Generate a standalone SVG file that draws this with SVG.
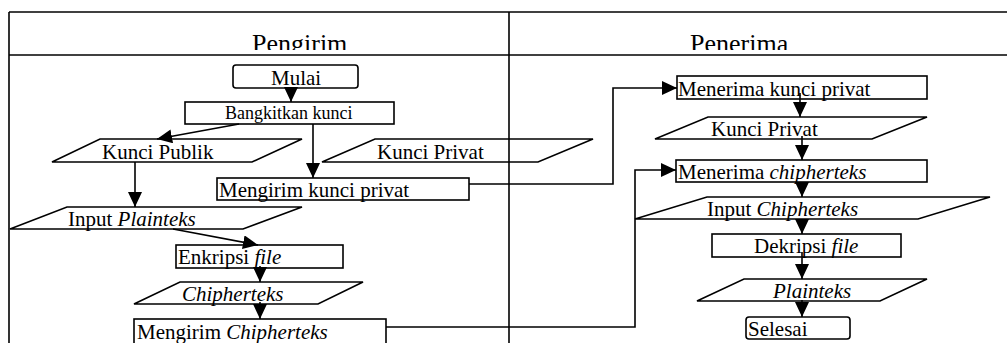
<svg xmlns="http://www.w3.org/2000/svg" width="1007" height="343" viewBox="0 0 1007 343">
<style>
.frame{fill:none;stroke:#000;stroke-width:1.6}
.box{fill:none;stroke:#000;stroke-width:1.6}
.t{font-family:'Liberation Serif','Times New Roman',Times,'DejaVu Serif',serif;font-size:21px;fill:#000}
.s{font-size:18px}
.h{font-size:26px}
.i{font-style:italic}
.c{fill:none;stroke:#000;stroke-width:1.6}
</style>
<defs>
<marker id="ah" markerUnits="userSpaceOnUse" markerWidth="15" markerHeight="14" refX="15" refY="7" orient="auto">
<path d="M0,0 L15,7 L0,14 z" fill="#000"/>
</marker>
<clipPath id="hc"><rect x="9" y="12" width="998" height="38"/></clipPath>
</defs>
<rect width="1007" height="343" fill="#fff"/>
<g id="lanes">
<line class="frame" x1="9" y1="12" x2="1007" y2="12"/>
<line class="frame" x1="9" y1="55" x2="1007" y2="55"/>
<line class="frame" x1="9" y1="12" x2="9" y2="343"/>
<line class="frame" x1="509" y1="12" x2="509" y2="343"/>
<g clip-path="url(#hc)">
<text class="t h" x="252" y="52" font-family="Liberation Serif, serif">Pengirim</text>
<text class="t h" x="690" y="52" font-family="Liberation Serif, serif">Penerima</text>
</g>
</g>
<g id="connectors">
<line class="c" x1="291" y1="88" x2="291" y2="102" marker-end="url(#ah)"/>
<line class="c" x1="239" y1="124" x2="157" y2="139" marker-end="url(#ah)"/>
<line class="c" x1="313" y1="124" x2="313" y2="178" marker-end="url(#ah)"/>
<line class="c" x1="135" y1="162" x2="135" y2="207" marker-end="url(#ah)"/>
<line class="c" x1="173" y1="229" x2="258" y2="245" marker-end="url(#ah)"/>
<line class="c" x1="260" y1="266" x2="260" y2="282" marker-end="url(#ah)"/>
<line class="c" x1="260" y1="302" x2="260" y2="319" marker-end="url(#ah)"/>
<polyline class="c" points="469,184 613,184 613,88 677,88" marker-end="url(#ah)"/>
<polyline class="c" points="386,327 635,327 635,170 676,170" marker-end="url(#ah)"/>
<line class="c" x1="800" y1="93" x2="800" y2="117" marker-end="url(#ah)"/>
<line class="c" x1="802" y1="136" x2="802" y2="160" marker-end="url(#ah)"/>
<line class="c" x1="802" y1="182" x2="802" y2="197" marker-end="url(#ah)"/>
<line class="c" x1="802" y1="219" x2="802" y2="234" marker-end="url(#ah)"/>
<line class="c" x1="802" y1="252" x2="802" y2="279" marker-end="url(#ah)"/>
<line class="c" x1="802" y1="300" x2="802" y2="317" marker-end="url(#ah)"/>
</g>
<g id="mulai">
<rect class="box" x="233" y="65" width="125" height="23" rx="3"/>
<text class="t" x="271" y="85">Mulai</text>
</g>
<g id="bangkitkan">
<rect class="box" x="185" y="102" width="209" height="22"/>
<text class="t s" x="225" y="119">Bangkitkan kunci</text>
</g>
<g id="kunci-publik">
<polygon class="box" points="100,139 302,139 252,162 52,162"/>
<text class="t" x="102" y="159">Kunci Publik</text>
</g>
<g id="kunci-privat-kirim">
<polygon class="box" points="375,139 593,139 538,162 322,162"/>
<text class="t" x="377" y="159">Kunci Privat</text>
</g>
<g id="mengirim-kunci">
<rect class="box" x="217" y="178" width="252" height="22"/>
<text class="t" x="219" y="197">Mengirim kunci privat</text>
</g>
<g id="input-plainteks">
<polygon class="box" points="67,207 302,207 243,229 10,229"/>
<text class="t" x="68" y="226">Input <tspan class="i">Plainteks</tspan></text>
</g>
<g id="enkripsi">
<rect class="box" x="176" y="245" width="167" height="23"/>
<text class="t" x="178" y="264">Enkripsi <tspan class="i">file</tspan></text>
</g>
<g id="chipherteks">
<polygon class="box" points="180,282 363,282 318,304 134,304"/>
<text class="t i" x="182" y="301">Chipherteks</text>
</g>
<g id="mengirim-chipherteks">
<rect class="box" x="134" y="319" width="252" height="26"/>
<text class="t" x="137" y="339">Mengirim <tspan class="i">Chipherteks</tspan></text>
</g>
<g id="menerima-kunci">
<rect class="box" x="677" y="76" width="250" height="23"/>
<text class="t" x="678" y="96">Menerima kunci privat</text>
</g>
<g id="kunci-privat-terima">
<polygon class="box" points="708,117 927,117 872,139 655,139"/>
<text class="t" x="711" y="136">Kunci Privat</text>
</g>
<g id="menerima-chipherteks">
<rect class="box" x="676" y="160" width="251" height="22"/>
<text class="t" x="678" y="179">Menerima <tspan class="i">chipherteks</tspan></text>
</g>
<g id="input-chipherteks">
<polygon class="box" points="707,197 990,197 918,219 635,219"/>
<text class="t" x="707" y="216">Input <tspan class="i">Chipherteks</tspan></text>
</g>
<g id="dekripsi">
<rect class="box" x="712" y="234" width="189" height="23"/>
<text class="t" x="754" y="253">Dekripsi <tspan class="i">file</tspan></text>
</g>
<g id="plainteks">
<polygon class="box" points="744,279 927,279 880,301 697,301"/>
<text class="t i" x="773" y="298">Plainteks</text>
</g>
<g id="selesai">
<rect class="box" x="746" y="317" width="104" height="22" rx="3"/>
<text class="t" x="748" y="336">Selesai</text>
</g>
</svg>
